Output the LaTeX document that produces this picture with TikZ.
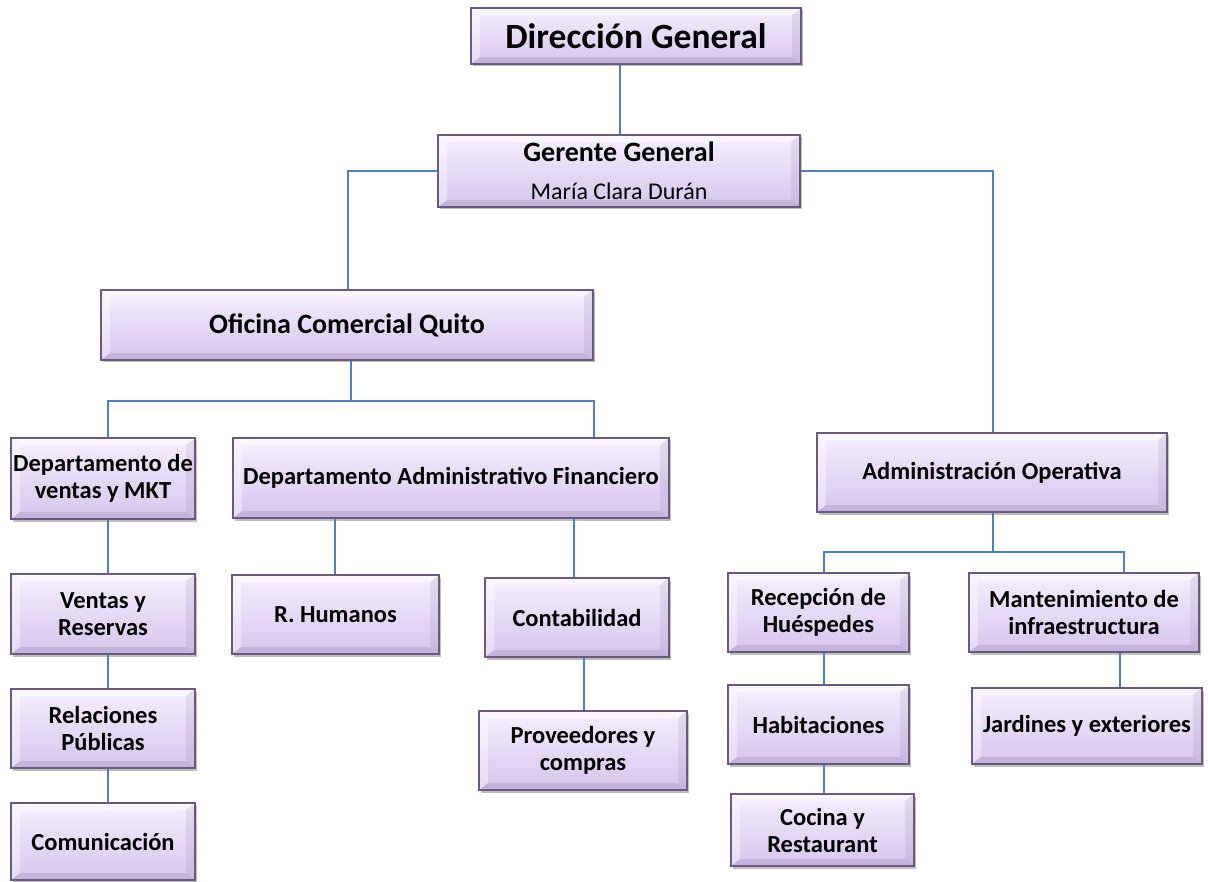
\documentclass[tikz,border=0pt]{standalone}
\usepackage{fontspec}
\setmainfont{Carlito}
\usetikzlibrary{shadows}
\definecolor{lnk}{HTML}{4F81BD}
\definecolor{bxtop}{HTML}{F5F0FD}
\definecolor{bxbot}{HTML}{D6C5EE}
\definecolor{bxdraw}{HTML}{6B5A80}
\tikzset{
  orgbox/.style={rectangle, draw=bxdraw, line width=1.3pt,
    top color=bxtop, bottom color=bxbot, inner sep=2pt, align=center,
    font=\bfseries\fontsize{24.5}{27}\selectfont,
    drop shadow={shadow xshift=2pt, shadow yshift=-2.5pt, fill=black, opacity=0.25},
    path picture={
      \coordinate (pnw) at (path picture bounding box.north west);
      \coordinate (pse) at (path picture bounding box.south east);
      \coordinate (pne) at (path picture bounding box.north east);
      \coordinate (psw) at (path picture bounding box.south west);
      \coordinate (inw) at ([shift={(9pt,-7pt)}]pnw);
      \coordinate (ine) at ([shift={(-9pt,-7pt)}]pne);
      \coordinate (ise) at ([shift={(-9pt,7pt)}]pse);
      \coordinate (isw) at ([shift={(9pt,7pt)}]psw);
      \fill[white,opacity=0.5] (pnw) -- (pne) -- (ine) -- (inw) -- cycle;
      \fill[white,opacity=0.4] (pnw) -- (inw) -- (isw) -- (psw) -- cycle;
      \fill[bxdraw,opacity=0.12] (pne) -- (ine) -- (ise) -- (pse) -- cycle;
      \fill[bxdraw,opacity=0.18] (psw) -- (isw) -- (ise) -- (pse) -- cycle;
    }},
  link/.style={draw=lnk, line width=2.6pt}
}
\begin{document}
\begin{tikzpicture}[x=1pt,y=-1pt]
\useasboundingbox (0,0) rectangle (1208,882);
% boxes
\node[orgbox, minimum width=330pt, minimum height=56pt, font=\bfseries\fontsize{35.5}{40}\selectfont] (dg) at (636,36) {Dirección General};
\node[orgbox, minimum width=362pt, minimum height=72pt] (gg) at (619,171)
  {{\fontsize{28}{30}\selectfont Gerente General}\\[11pt]{\mdseries\fontsize{24}{26}\selectfont María Clara Durán}};
\node[orgbox, minimum width=492pt, minimum height=70pt, font=\bfseries\fontsize{28}{30}\selectfont] (ofi) at (347,325) {Oficina Comercial Quito};
\node[orgbox, minimum width=184pt, minimum height=81pt] (dv) at (103,478.5) {Departamento de\\ventas y MKT};
\node[orgbox, minimum width=436pt, minimum height=80pt] (daf) at (451,478) {Departamento Administrativo Financiero};
\node[orgbox, minimum width=350pt, minimum height=79pt] (ao) at (992,472.5) {Administración Operativa};
\node[orgbox, minimum width=184pt, minimum height=80pt] (vr) at (103,614) {Ventas y\\Reservas};
\node[orgbox, minimum width=184pt, minimum height=79pt] (rp) at (103,728.5) {Relaciones\\Públicas};
\node[orgbox, minimum width=184pt, minimum height=77pt] (com) at (103,841.5) {Comunicación};
\node[orgbox, minimum width=207pt, minimum height=79pt] (rh) at (335.5,614.5) {R. Humanos};
\node[orgbox, minimum width=184pt, minimum height=79pt] (cont) at (577,617.5) {Contabilidad};
\node[orgbox, minimum width=208pt, minimum height=79pt] (prov) at (583,750.5) {Proveedores y\\compras};
\node[orgbox, minimum width=181pt, minimum height=79pt] (rec) at (818.5,612.5) {Recepción de\\Huéspedes};
\node[orgbox, minimum width=230pt, minimum height=79pt] (mant) at (1084,612.5) {Mantenimiento de\\infraestructura};
\node[orgbox, minimum width=181pt, minimum height=79pt] (hab) at (818.5,724.5) {Habitaciones};
\node[orgbox, minimum width=183pt, minimum height=72pt] (coc) at (822.5,830) {Cocina y\\Restaurant};
\node[orgbox, minimum width=230pt, minimum height=76pt] (jar) at (1087,726) {Jardines y exteriores};
% bus coordinates
\coordinate (bus1) at (351,401);
\coordinate (bus2) at (993,552);
% connectors
\draw[link] ([xshift=-16pt]dg.south) -- ([xshift=1pt]gg.north);
\draw[link] (gg.west) -| ([xshift=1pt]ofi.north);
\draw[link] (gg.east) -| ([xshift=1pt]ao.north);
\draw[link] ([xshift=4pt]ofi.south) -- (bus1);
\draw[link] ([xshift=5pt]dv.north) |- (bus1) -| ([xshift=143pt]daf.north);
\draw[link] ([xshift=5pt]dv.south) -- ([xshift=5pt]vr.north);
\draw[link] ([xshift=5pt]vr.south) -- ([xshift=5pt]rp.north);
\draw[link] ([xshift=5pt]rp.south) -- ([xshift=5pt]com.north);
\draw[link] ([xshift=-0.5pt]rh.north) -- ([xshift=-0.5pt]rh.north |- daf.south);
\draw[link] ([xshift=-3pt]cont.north) -- ([xshift=-3pt]cont.north |- daf.south);
\draw[link] ([xshift=1pt]prov.north) -- ([xshift=1pt]prov.north |- cont.south);
\draw[link] ([xshift=1pt]ao.south) -- (bus2);
\draw[link] ([xshift=5.5pt]rec.north) |- (bus2) -| ([xshift=40pt]mant.north);
\draw[link] ([xshift=5.5pt]hab.north) -- ([xshift=5.5pt]hab.north |- rec.south);
\draw[link] ([xshift=1.5pt]coc.north) -- ([xshift=1.5pt]coc.north |- hab.south);
\draw[link] ([xshift=33pt]jar.north) -- ([xshift=33pt]jar.north |- mant.south);
\end{tikzpicture}
\end{document}
